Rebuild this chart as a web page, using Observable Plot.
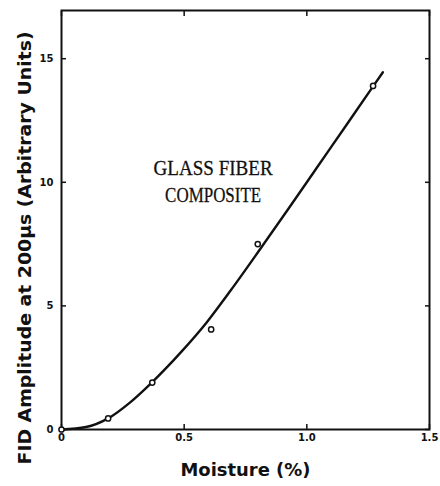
<!DOCTYPE html>
<html>
<head>
<meta charset="utf-8">
<script src="https://cdn.jsdelivr.net/npm/d3@7"></script>
<script src="https://cdn.jsdelivr.net/npm/@observablehq/plot@0.6"></script>
<style>
  html, body { margin: 0; padding: 0; background: #fff; }
  #chart svg { display: block; }
</style>
</head>
<body>
<div id="chart"></div>
<script>
// Measured FID amplitude against moisture content
const moisture = [0, 0.19, 0.37, 0.61, 0.80, 1.27];
const amplitude = [0, 0.45, 1.9, 4.05, 7.5, 13.9];

// Hand-drawn fitted curve through the measurements
const curveMoisture = [0, 0.1, 0.19, 0.28, 0.37, 0.49, 0.59, 0.69, 0.81, 0.93, 1.04, 1.16, 1.27, 1.31];
const curveAmplitude = [0, 0.1, 0.45, 1.1, 1.92, 3.16, 4.31, 5.63, 7.3, 9.0, 10.58, 12.3, 13.88, 14.45];

// Axis ticks and labels
const xTicks = [0, 0.5, 1.0, 1.5];
const xTickLabels = ["0", "0.5", "1.0", "1.5"];
const yTicks = [0, 5, 10, 15];
const xTitle = "Moisture (%)";
const yTitle = "FID Amplitude at 200µs (Arbitrary Units)";
const annotation = ["GLASS FIBER", "COMPOSITE"];
const annotationAt = {x: 0.618, y: [10.6, 9.48]};

const measured = moisture.map((m, i) => ({m, a: amplitude[i]}));
const curve = curveMoisture.map((m, i) => ({m, a: curveAmplitude[i]}));
const notes = annotation.map((t, i) => ({t, x: annotationAt.x, y: annotationAt.y[i]}));

const tickFont = {fontSize: 10, fontWeight: "bold"};
const noLabel = () => "";

const chart = Plot.plot({
  width: 440,
  height: 486,
  marginLeft: 61,
  marginRight: 11,
  marginTop: 10,
  marginBottom: 57,
  style: {fontFamily: "DejaVu Sans", color: "#111", background: "#fff"},
  x: {domain: [0, 1.5]},
  y: {domain: [0, 16.95]},
  marks: [
    Plot.frame({stroke: "#111", strokeWidth: 2}),
    Plot.axisX({ticks: xTicks, tickFormat: (d, i) => xTickLabels[i], tickSize: -5, tickPadding: 9, stroke: "#111", strokeWidth: 1.5, label: null, ...tickFont}),
    Plot.axisX({anchor: "top", ticks: xTicks, tickFormat: noLabel, tickSize: -5, stroke: "#111", strokeWidth: 1.5, label: null}),
    Plot.axisY({ticks: yTicks, tickSize: -5, tickPadding: 13, stroke: "#111", strokeWidth: 1.5, label: null, ...tickFont}),
    Plot.axisY({anchor: "right", ticks: yTicks, tickFormat: noLabel, tickSize: -5, stroke: "#111", strokeWidth: 1.5, label: null}),
    Plot.line(curve, {x: "m", y: "a", curve: "monotone-x", stroke: "#111", strokeWidth: 2.4}),
    Plot.dot(measured, {x: "m", y: "a", r: 2.6, stroke: "#111", strokeWidth: 1.5, fill: "#fff"}),
    Plot.text(notes, {x: "x", y: "y", text: "t", fontFamily: "Liberation Serif", fontSize: 22, fill: "#111", stroke: "#111", strokeWidth: 0.3}),
    Plot.text([xTitle], {frameAnchor: "bottom", dy: 46, fontSize: 17, fontWeight: "bold", fill: "#111"}),
    Plot.text([yTitle], {frameAnchor: "left", textAnchor: "middle", rotate: -90, dx: -36, dy: 28, fontSize: 18, fontWeight: "bold", fill: "#111"})
  ]
});

// Fit the serif annotation and axis titles to their lettering widths
const widths = {"GLASS FIBER": 119, "COMPOSITE": 96, [xTitle]: 130, [yTitle]: 433};
chart.querySelectorAll("text").forEach(el => {
  const w = widths[el.textContent];
  if (w) {
    el.setAttribute("textLength", w);
    el.setAttribute("lengthAdjust", "spacingAndGlyphs");
  }
});

document.getElementById("chart").appendChild(chart);
</script>
</body>
</html>
